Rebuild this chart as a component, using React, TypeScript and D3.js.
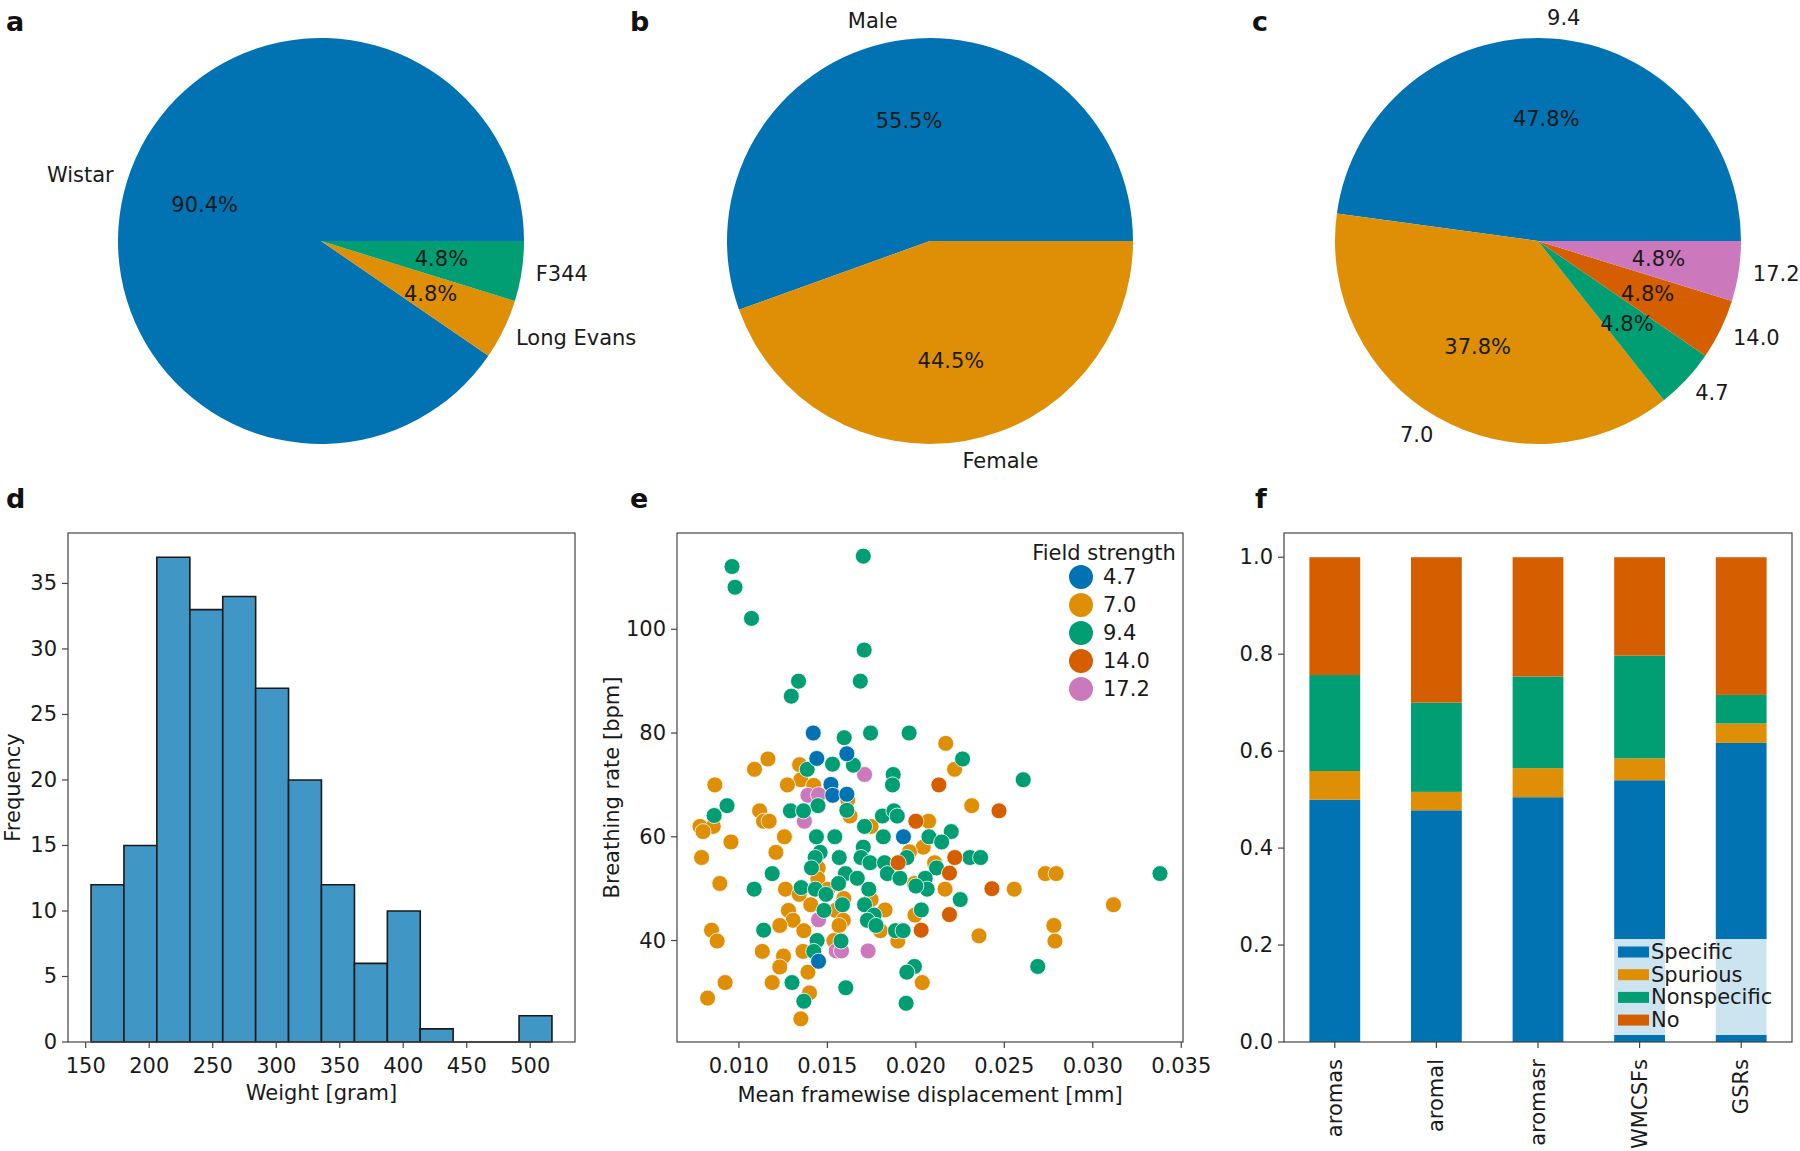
import React from 'react';
import * as d3 from 'd3';

// pie a: strain
const strainLabels = ['Wistar', 'Long Evans', 'F344'];
const strainCounts = [189, 10, 10];
// pie b: sex
const sexLabels = ['Male', 'Female'];
const sexCounts = [116, 93];
// pie c: field strength
const fieldLabels = ['9.4', '7.0', '4.7', '14.0', '17.2'];
const fieldCounts = [100, 79, 10, 10, 10];

// histogram d
const weightBinEdges = [154.2, 180.1, 206.0, 232.0, 257.9, 283.8, 309.7, 335.6, 361.6, 387.5, 413.4, 439.3, 465.2, 491.2, 517.1];
const weightCounts = [12, 15, 37, 33, 34, 27, 20, 12, 6, 10, 1, 0, 0, 2];

// scatter e: [mean FD (mm), breathing rate (bpm)] per field strength
const fs47 = [[0.0142, 80.0], [0.0161, 76.0], [0.0144, 75.1], [0.0152, 70.1], [0.0153, 68.0], [0.0161, 68.2], [0.0193, 60.0], [0.0145, 36.0]];
const fs70 = [
  [0.02169, 78.0], [0.01164, 75.0], [0.01343, 73.9], [0.01088, 73.0], [0.02219, 73.0], [0.0135, 71.0], [0.00864, 70.0],
  [0.01274, 70.0], [0.01423, 69.9], [0.01615, 67.1], [0.02316, 66.0], [0.01117, 65.0], [0.01139, 63.0], [0.01171, 63.0],
  [0.01628, 64.0], [0.02072, 63.0], [0.0078, 62.0], [0.00855, 62.0], [0.00797, 61.0], [0.01747, 62.0], [0.01257, 60.0],
  [0.00955, 59.0], [0.02042, 58.0], [0.01964, 57.1], [0.01209, 57.0], [0.00789, 56.0], [0.02106, 55.0], [0.01448, 54.0],
  [0.02732, 52.9], [0.02793, 52.9], [0.01446, 51.9], [0.00892, 51.0], [0.01263, 49.9], [0.01503, 49.9], [0.01992, 51.0],
  [0.02165, 49.9], [0.02556, 49.9], [0.01341, 48.9], [0.01593, 48.1], [0.01406, 46.9], [0.01747, 47.9], [0.03117, 46.9],
  [0.0128, 45.8], [0.01546, 45.8], [0.01826, 45.9], [0.01995, 44.9], [0.01306, 43.9], [0.0159, 43.9], [0.0278, 42.9],
  [0.01231, 42.9], [0.01566, 42.9], [0.00845, 42.0], [0.01367, 41.9], [0.01799, 41.9], [0.02357, 40.9], [0.00877, 39.9],
  [0.01537, 40.0], [0.01898, 39.9], [0.02786, 39.9], [0.01132, 37.9], [0.01362, 37.9], [0.01252, 37.0], [0.01231, 34.9],
  [0.0139, 33.9], [0.00922, 31.9], [0.01188, 31.9], [0.02036, 31.9], [0.01399, 29.9], [0.00823, 28.9], [0.0135, 24.9],
];
const fs94 = [
  [0.00961, 112.1], [0.00978, 108.1], [0.01071, 102.1], [0.01703, 114.1], [0.01708, 96.0], [0.01337, 90.0], [0.01686, 90.0],
  [0.01296, 87.1], [0.01744, 80.0], [0.01962, 80.0], [0.01595, 79.1], [0.02264, 75.0], [0.01529, 74.0], [0.01647, 73.8],
  [0.01386, 73.0], [0.01872, 72.0], [0.02607, 71.0], [0.01868, 70.0], [0.00933, 66.0], [0.01447, 66.0], [0.0086, 64.1],
  [0.01291, 65.0], [0.01365, 65.0], [0.01811, 64.0], [0.01876, 65.0], [0.01895, 64.0], [0.0171, 62.0], [0.022, 61.0],
  [0.01438, 60.0], [0.01542, 60.0], [0.01816, 60.0], [0.02074, 60.0], [0.02146, 59.0], [0.01703, 58.0], [0.01459, 57.0],
  [0.01431, 56.0], [0.01567, 56.0], [0.0169, 56.0], [0.01949, 56.0], [0.02305, 56.0], [0.02366, 56.0], [0.01741, 55.0],
  [0.01823, 55.0], [0.02117, 54.0], [0.0141, 54.0], [0.01602, 52.9], [0.01669, 52.0], [0.01839, 52.9], [0.0191, 52.0],
  [0.02053, 52.0], [0.0338, 52.9], [0.01188, 52.9], [0.01086, 49.9], [0.01352, 50.2], [0.01432, 49.9], [0.01563, 51.0],
  [0.01734, 49.9], [0.02064, 49.9], [0.01492, 48.9], [0.02251, 47.9], [0.01585, 46.9], [0.0171, 46.9], [0.01481, 45.8],
  [0.01764, 44.9], [0.02031, 45.9], [0.01726, 43.9], [0.01775, 42.9], [0.0114, 42.0], [0.01885, 41.9], [0.01928, 41.9],
  [0.01442, 40.0], [0.01577, 39.9], [0.01423, 37.9], [0.01992, 35.0], [0.01949, 33.9], [0.02689, 35.0], [0.013, 31.9],
  [0.01604, 30.9], [0.01367, 28.3], [0.01945, 27.9], [0.0161, 65.1], [0.0200, 50.5],
];
const fs140 = [[0.0213, 70.0], [0.0247, 65.0], [0.0200, 63.0], [0.0222, 56.0], [0.0190, 55.0], [0.0219, 53.0], [0.0243, 50.0], [0.0219, 45.0], [0.0203, 42.0]];
const fs172 = [[0.0171, 72.0], [0.0139, 68.0], [0.0145, 68.1], [0.0137, 63.0], [0.0145, 44.0], [0.0155, 38.0], [0.0158, 38.0], [0.0173, 38.0]];
const fieldLegend = ['4.7', '7.0', '9.4', '14.0', '17.2'];

// stacked bars f
const methods = ['aromas', 'aromal', 'aromasr', 'WMCSFs', 'GSRs'];
const specific = [0.500, 0.478, 0.505, 0.540, 0.617];
const spurious = [0.059, 0.038, 0.060, 0.045, 0.040];
const nonspecific = [0.198, 0.184, 0.189, 0.212, 0.059];
const noDenoise = [0.243, 0.300, 0.246, 0.203, 0.284];
const classNames = ['Specific', 'Spurious', 'Nonspecific', 'No'];

const COLORS = ['#0173b2', '#de8f05', '#029e73', '#d55e00', '#cc78bc'];
const FONT = 'DejaVu Sans, sans-serif';
const FS = 21;
const INK = '#1a1a1a';
const SPINE = '#444';
const TICK = 6;

const Pie = ({ cx, cy, r, labels, counts, colors }) => {
  const arcs = d3.pie().sort(null).startAngle(Math.PI / 2).endAngle(Math.PI / 2 - 2 * Math.PI)(counts);
  const arc = d3.arc().innerRadius(0).outerRadius(r);
  const total = d3.sum(counts);
  return (
    <g transform={`translate(${cx},${cy})`}>
      {arcs.map((a, i) => (
        <path key={i} d={arc(a)} fill={colors[i]} />
      ))}
      {arcs.map((a, i) => {
        const m = (a.startAngle + a.endAngle) / 2;
        const lx = 1.1 * r * Math.sin(m);
        const ly = -1.1 * r * Math.cos(m);
        const px = 0.6 * r * Math.sin(m);
        const py = -0.6 * r * Math.cos(m);
        // labels sit a little closer to the pie horizontally than 1.1r
        const nudge = lx > 0 ? -6 : 6;
        return (
          <g key={'t' + i}>
            <text x={lx + nudge} y={ly} textAnchor={lx > 0 ? 'start' : 'end'} dominantBaseline="central">{labels[i]}</text>
            <text x={px} y={py} textAnchor="middle" dominantBaseline="central">{((counts[i] / total) * 100).toFixed(1) + '%'}</text>
          </g>
        );
      })}
    </g>
  );
};

const box = { top: 533, bottom: 1042 };

const Histogram = () => {
  const left = 68, right = 575;
  const lo = weightBinEdges[0], hi = weightBinEdges[weightBinEdges.length - 1];
  const pad = (hi - lo) * 0.05;
  const x = d3.scaleLinear().domain([lo - pad, hi + pad]).range([left, right]);
  const y = d3.scaleLinear().domain([0, d3.max(weightCounts) * 1.05]).range([box.bottom, box.top]);
  return (
    <g>
      {weightCounts.map((c, i) => {
        const x0 = x(weightBinEdges[i]), x1 = x(weightBinEdges[i + 1]);
        return (
          <path key={i} d={`M${x0},${y(0)}H${x1}V${y(c)}H${x0}Z`} fill="#4096c5" stroke={INK} strokeWidth={1.6} />
        );
      })}
      <rect x={left} y={box.top} width={right - left} height={box.bottom - box.top} fill="none" stroke={SPINE} strokeWidth={1.2} />
      {d3.range(150, 501, 50).map((t) => (
        <g key={'x' + t}>
          <line x1={x(t)} x2={x(t)} y1={box.bottom} y2={box.bottom + TICK} stroke={SPINE} strokeWidth={1.2} />
          <text x={x(t)} y={box.bottom + 24} textAnchor="middle" dominantBaseline="central">{t}</text>
        </g>
      ))}
      {d3.range(0, 36, 5).map((t) => (
        <g key={'y' + t}>
          <line x1={left - TICK} x2={left} y1={y(t)} y2={y(t)} stroke={SPINE} strokeWidth={1.2} />
          <text x={left - 11} y={y(t)} textAnchor="end" dominantBaseline="central">{t}</text>
        </g>
      ))}
      <text x={(left + right) / 2} y={1093} textAnchor="middle" dominantBaseline="central">Weight [gram]</text>
      <text transform={`translate(13,${(box.top + box.bottom) / 2}) rotate(-90)`} textAnchor="middle" dominantBaseline="central">Frequency</text>
    </g>
  );
};

const Scatter = () => {
  const left = 677, right = 1183;
  const groups = [
    { pts: fs70, color: COLORS[1] },
    { pts: fs172, color: COLORS[4] },
    { pts: fs94, color: COLORS[2] },
    { pts: fs47, color: COLORS[0] },
    { pts: fs140, color: COLORS[3] },
  ];
  const all = [...fs47, ...fs70, ...fs94, ...fs140, ...fs172];
  const [x0, x1] = d3.extent(all, (d) => d[0]);
  const [y0, y1] = d3.extent(all, (d) => d[1]);
  const px = (x1 - x0) * 0.05, py = (y1 - y0) * 0.05;
  const x = d3.scaleLinear().domain([x0 - px, x1 + px]).range([left, right]);
  const y = d3.scaleLinear().domain([y0 - py, y1 + py]).range([box.bottom, box.top]);
  const fmt = d3.format('.3f');
  return (
    <g>
      {groups.map((g, gi) =>
        g.pts.map((d, i) => (
          <circle key={gi + '-' + i} cx={x(d[0])} cy={y(d[1])} r={8} fill={g.color} stroke="#fff" strokeWidth={0.8} />
        ))
      )}
      <rect x={left} y={box.top} width={right - left} height={box.bottom - box.top} fill="none" stroke={SPINE} strokeWidth={1.2} />
      {[0.01, 0.015, 0.02, 0.025, 0.03, 0.035].map((t) => (
        <g key={'x' + t}>
          <line x1={x(t)} x2={x(t)} y1={box.bottom} y2={box.bottom + TICK} stroke={SPINE} strokeWidth={1.2} />
          <text x={x(t)} y={box.bottom + 24} textAnchor="middle" dominantBaseline="central">{fmt(t)}</text>
        </g>
      ))}
      {[40, 60, 80, 100].map((t) => (
        <g key={'y' + t}>
          <line x1={left - TICK} x2={left} y1={y(t)} y2={y(t)} stroke={SPINE} strokeWidth={1.2} />
          <text x={left - 11} y={y(t)} textAnchor="end" dominantBaseline="central">{t}</text>
        </g>
      ))}
      <text x={(left + right) / 2} y={1095} textAnchor="middle" dominantBaseline="central">Mean framewise displacement [mm]</text>
      <text transform={`translate(612,${(box.top + box.bottom) / 2}) rotate(-90)`} textAnchor="middle" dominantBaseline="central">Breathing rate [bpm]</text>
      <text x={1104} y={553} textAnchor="middle" dominantBaseline="central">Field strength</text>
      {fieldLegend.map((l, i) => (
        <g key={'l' + i}>
          <circle cx={1081} cy={577 + i * 28} r={12} fill={COLORS[i]} />
          <text x={1103} y={577 + i * 28} dominantBaseline="central">{l}</text>
        </g>
      ))}
    </g>
  );
};

const Stacked = () => {
  const left = 1284, right = 1792;
  const x = d3.scaleLinear().domain([-0.5, methods.length - 0.5]).range([left, right]);
  const y = d3.scaleLinear().domain([0, 1.05]).range([box.bottom, box.top]);
  const series = [specific, spurious, nonspecific, noDenoise];
  const fmt = d3.format('.1f');
  return (
    <g>
      {methods.map((m, i) => {
        let base = 0;
        return series.map((s, k) => {
          const b = base;
          base += s[i];
          return (
            <rect key={m + k} x={x(i - 0.25)} width={x(i + 0.25) - x(i - 0.25)} y={y(base)} height={y(b) - y(base)} fill={COLORS[k]} />
          );
        });
      })}
      <rect x={1614} y={939} width={right - 1614} height={96} fill="#fff" fillOpacity={0.8} />
      {classNames.map((c, k) => (
        <g key={c}>
          <rect x={1618} y={952 + k * 22.7 - 5.5} width={31} height={11} fill={COLORS[k]} />
          <text x={1651} y={952 + k * 22.7} dominantBaseline="central">{c}</text>
        </g>
      ))}
      <rect x={left} y={box.top} width={right - left} height={box.bottom - box.top} fill="none" stroke={SPINE} strokeWidth={1.2} />
      {methods.map((m, i) => (
        <g key={'x' + m}>
          <line x1={x(i)} x2={x(i)} y1={box.bottom} y2={box.bottom + TICK} stroke={SPINE} strokeWidth={1.2} />
          <text transform={`translate(${x(i)},${box.bottom + 17}) rotate(-90)`} textAnchor="end" dominantBaseline="central">{m}</text>
        </g>
      ))}
      {d3.range(0, 1.01, 0.2).map((t) => (
        <g key={'y' + t}>
          <line x1={left - TICK} x2={left} y1={y(t)} y2={y(t)} stroke={SPINE} strokeWidth={1.2} />
          <text x={left - 11} y={y(t)} textAnchor="end" dominantBaseline="central">{fmt(t)}</text>
        </g>
      ))}
    </g>
  );
};

const panelLetters = [
  ['a', 6, 31], ['b', 630, 31], ['c', 1252, 31],
  ['d', 6, 508], ['e', 630, 508], ['f', 1255, 508],
];

export default function App() {
  return (
    <svg width={1800} height={1151} style={{ position: 'absolute', left: 0, top: 0, background: '#fff' }} fontFamily={FONT} fontSize={FS} fill={INK}>
      <rect width={1800} height={1151} fill="#fff" />
      <Pie cx={321} cy={241} r={203} labels={strainLabels} counts={strainCounts} colors={[COLORS[0], COLORS[1], COLORS[2]]} />
      <Pie cx={930} cy={241} r={203} labels={sexLabels} counts={sexCounts} colors={[COLORS[0], COLORS[1]]} />
      <Pie cx={1538} cy={241} r={203} labels={fieldLabels} counts={fieldCounts} colors={COLORS} />
      <Histogram />
      <Scatter />
      <Stacked />
      {panelLetters.map(([t, x, y]) => (
        <text key={t} x={x} y={y} fontWeight="bold" fontSize={27} fill="#111">{t}</text>
      ))}
    </svg>
  );
}
